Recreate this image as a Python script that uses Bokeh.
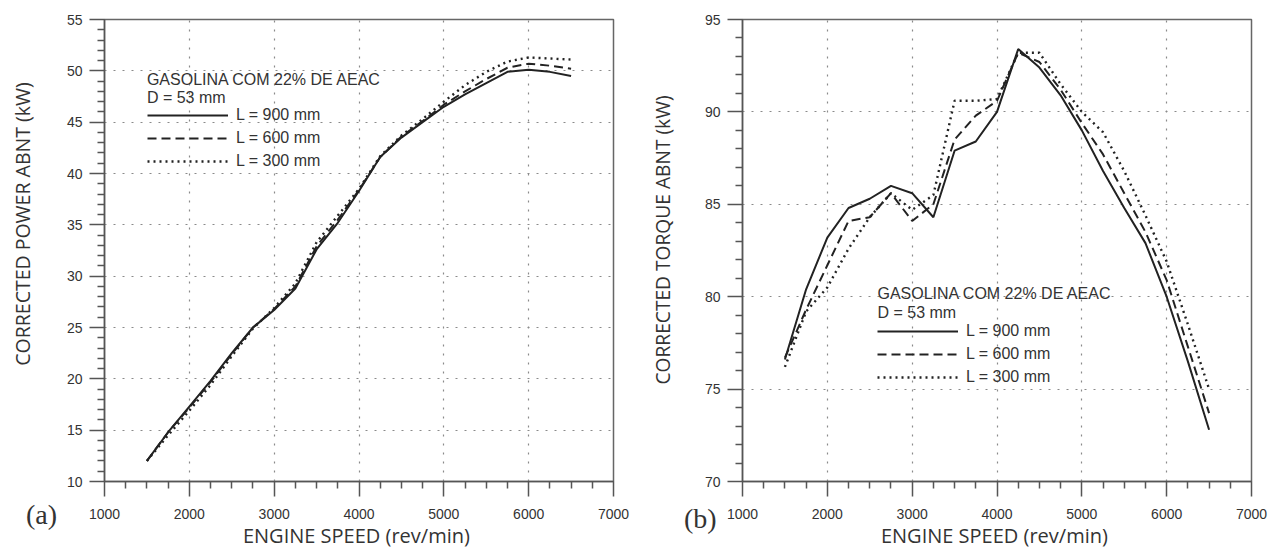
from bokeh.plotting import figure
from bokeh.layouts import row
from bokeh.models import (FixedTicker, Legend, LegendItem, Label, Range1d, Div)
from bokeh.embed import file_html
from bokeh.resources import INLINE

# ---------------- data ----------------
rpm = [1500, 1750, 2000, 2250, 2500, 2750, 3000, 3250, 3500, 3750, 4000,
       4250, 4500, 4750, 5000, 5250, 5500, 5750, 6000, 6250, 6500]

power_900 = [12.0, 14.8, 17.3, 19.8, 22.5, 25.0, 26.7, 28.8, 32.6, 35.2, 38.3,
             41.6, 43.5, 45.0, 46.5, 47.7, 48.8, 49.9, 50.1, 49.9, 49.5]
power_600 = [12.0, 14.8, 17.2, 19.7, 22.4, 25.0, 26.8, 29.0, 32.9, 35.5, 38.4,
             41.6, 43.6, 45.1, 46.7, 48.0, 49.2, 50.3, 50.7, 50.5, 50.2]
power_300 = [12.0, 14.5, 16.9, 19.4, 22.2, 24.9, 26.9, 29.3, 33.3, 35.9, 38.5,
             41.7, 43.7, 45.3, 47.0, 48.6, 49.9, 50.9, 51.3, 51.2, 51.1]

torque_900 = [76.6, 80.4, 83.2, 84.8, 85.3, 86.0, 85.6, 84.3, 87.9, 88.4, 90.0,
              93.4, 92.4, 90.9, 89.0, 86.8, 84.8, 82.9, 80.0, 76.5, 72.8]
torque_600 = [76.7, 79.3, 81.7, 84.1, 84.3, 85.6, 84.1, 85.0, 88.5, 89.8, 90.6,
              93.2, 92.7, 91.2, 89.4, 87.7, 85.6, 83.5, 80.9, 77.3, 73.7]
torque_300 = [76.2, 79.2, 80.5, 82.6, 84.3, 85.6, 84.7, 85.5, 90.6, 90.6, 90.7,
              93.2, 93.2, 91.5, 90.0, 88.9, 86.8, 84.4, 81.9, 78.5, 75.0]

x_ticks = [1000, 2000, 3000, 4000, 5000, 6000, 7000]
x_minor = [v for v in range(1000, 7001, 250) if v % 1000 != 0]
power_ticks = [10, 15, 20, 25, 30, 35, 40, 45, 50, 55]
torque_ticks = [70, 75, 80, 85, 90, 95]

legend_labels = ["L = 900 mm", "L = 600 mm", "L = 300 mm"]
header_1 = "GASOLINA COM 22% DE AEAC"
header_2 = "D = 53 mm"
x_label = "ENGINE SPEED  (rev/min)"
power_label = "CORRECTED POWER ABNT  (kW)"
torque_label = "CORRECTED TORQUE ABNT  (kW)"
panel_a = "(a)"
panel_b = "(b)"

TICK_FONT = "Liberation Sans"
AX_FONT = "Open Sans"
DARK = "#222222"
AXC = "#555555"

dashes = ["solid", "9 5", "2 4"]
widths = [2.0, 2.0, 2.4]


def make_fig(width, ylo, yhi, yticks, mb_left, mb_right, mb_top, mb_bottom):
    p = figure(width=width, height=554, output_backend="svg", toolbar_location=None,
               x_range=Range1d(1000, 7000), y_range=Range1d(ylo, yhi),
               min_border_left=mb_left, min_border_right=mb_right,
               min_border_top=mb_top, min_border_bottom=mb_bottom)
    p.background_fill_color = "white"
    p.border_fill_color = "white"
    p.outline_line_color = "#666666"
    p.outline_line_width = 1.5

    p.xaxis.ticker = FixedTicker(ticks=x_ticks, minor_ticks=x_minor)
    yminor = [v for v in range(ylo, yhi + 1) if v not in yticks]
    p.yaxis.ticker = FixedTicker(ticks=yticks, minor_ticks=yminor)

    for ax in (p.xaxis[0], p.yaxis[0]):
        ax.axis_line_color = AXC
        ax.axis_line_width = 1.5
        ax.major_tick_line_color = AXC
        ax.minor_tick_line_color = AXC
        ax.major_tick_line_width = 1.5
        ax.minor_tick_line_width = 1.5
        ax.major_tick_out = 15
        ax.major_tick_in = 0
        ax.minor_tick_out = 7
        ax.minor_tick_in = 0
        ax.major_label_text_font = TICK_FONT
        ax.major_label_text_font_size = "14px"
        ax.major_label_text_color = "#333333"
    p.yaxis.major_label_standoff = 7
    p.xaxis.major_label_standoff = 12

    p.xaxis.axis_label = x_label
    p.xaxis.axis_label_text_font = AX_FONT
    p.xaxis.axis_label_text_font_size = "20px"
    p.xaxis.axis_label_text_font_style = "normal"
    p.xaxis.axis_label_text_color = "#333333"
    p.xaxis.axis_label_standoff = 0

    p.xgrid.ticker = FixedTicker(ticks=x_ticks[1:-1])
    p.ygrid.ticker = FixedTicker(ticks=yticks[1:-1])
    for g in (p.xgrid[0], p.ygrid[0]):
        g.grid_line_color = "#8a8a8a"
        g.grid_line_dash = "2 7"
        g.grid_line_width = 1.2
    return p


def add_series(p, ys_list):
    rs = []
    for ys, d, w in zip(ys_list, dashes, widths):
        r = p.line(rpm, ys, line_color=DARK, line_width=w, line_dash=d)
        rs.append(r)
    return rs


def add_legend(p, rs, loc, spacing):
    leg = Legend(items=[LegendItem(label=l, renderers=[r]) for l, r in zip(legend_labels, rs)],
                 location=loc, orientation="vertical")
    leg.glyph_width = 81
    leg.glyph_height = 20
    leg.label_height = 20
    leg.label_standoff = 8
    leg.spacing = spacing
    leg.padding = 0
    leg.margin = 0
    leg.border_line_color = None
    leg.background_fill_alpha = 0
    leg.label_text_font = TICK_FONT
    leg.label_text_font_size = "16px"
    leg.label_text_color = "#333333"
    p.add_layout(leg, "center")


def add_text(p, text, x, y, size="16px"):
    lab = Label(x=x, y=y, text=text, text_font=TICK_FONT, text_font_size=size,
                text_align="left", text_baseline="middle", text_color="#333333")
    p.add_layout(lab)


def panel_div(text, left, top):
    return Div(text=text, styles={
        "position": "absolute", "left": f"{left}px", "top": f"{top}px",
        "font-family": "Liberation Serif", "font-size": "28px",
        "line-height": "28px", "color": "#333333", "margin": "0", "padding": "0"})


def ylabel_div(text, cx, cy, size):
    w, h = 400, 26
    return Div(text=text, styles={
        "position": "absolute", "left": f"{cx - w / 2}px", "top": f"{cy - h / 2}px",
        "width": f"{w}px", "height": f"{h}px", "text-align": "center",
        "white-space": "nowrap", "transform": "rotate(-90deg)",
        "transform-origin": "50% 50%",
        "font-family": AX_FONT, "font-size": size, "line-height": f"{h}px",
        "color": "#333333", "margin": "0", "padding": "0"})


# ---------- left: power ----------
p1 = make_fig(640, 10, 55, power_ticks, 104, 27, 17, 71)
r1 = add_series(p1, [power_900, power_600, power_300])
add_legend(p1, r1, (43, 310), 3)
add_text(p1, header_1, 1500, 49.2)
add_text(p1, header_2, 1500, 47.4)

# ---------- right: torque ----------
p2 = make_fig(638, 70, 95, torque_ticks, 102, 27, 19, 73)
r2 = add_series(p2, [torque_900, torque_600, torque_300])
add_legend(p2, r2, (135, 94), 3)
add_text(p2, header_1, 2591, 80.2)
add_text(p2, header_2, 2591, 79.15)

ylab_1 = ylabel_div(power_label, 22.5, 223.5, "19.5px")
ylab_2 = ylabel_div(torque_label, 663, 240, "19.2px")
div_a = panel_div(panel_a, 26, 501)
div_b = panel_div(panel_b, 684, 505)

layout = row(p1, p2, ylab_1, ylab_2, div_a, div_b)
open("out.html", "w").write(file_html(layout, INLINE))
